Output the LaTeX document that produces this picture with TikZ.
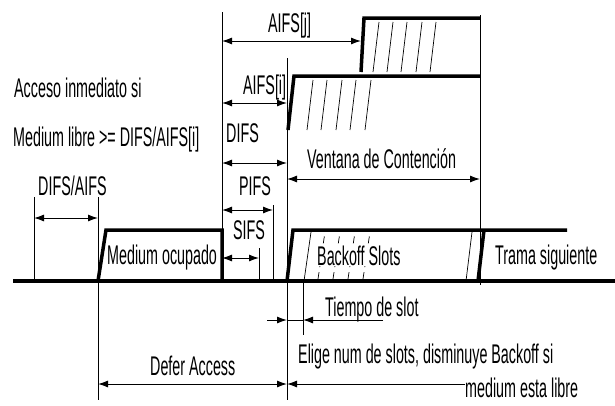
\documentclass[tikz,border=0pt]{standalone}
\usepackage{fontspec}
\setmainfont{Liberation Sans}[FakeStretch=0.53]
\usetikzlibrary{arrows.meta}

\begin{document}
\begin{tikzpicture}[x=1pt,y=-1pt,
  lbl/.style={anchor=base west,inner sep=0pt,font=\fontsize{27}{30}\selectfont},
  busy/.style={line width=3.5pt,line join=miter},
  guide/.style={line width=0.9pt},
  dim/.style={line width=1pt,{Latex[length=10pt,width=7pt]}-{Latex[length=10pt,width=7pt]}},
  half/.style={line width=1pt,-{Latex[length=10pt,width=7pt]}},
  slant/.style={line width=0.7pt},
  dslant/.style={line width=0.7pt,dash pattern=on 7pt off 5pt}]
  \useasboundingbox (0,0) rectangle (615,405);

  % time axis and transmissions
  \draw[busy] (13,281) -- (615,281);
  \draw[busy] (98,281) -- (106,230) -- (222,230) -- (222,281);
  \draw[busy] (288,130) -- (294,76) -- (480,76);
  \draw[busy] (361,72) -- (364,18) -- (480,18);
  \draw[busy] (287,281) -- (293,230) -- (567,230);
  \draw[busy] (478,281) -- (484,230);

  % slots
  \foreach \x in {373,387,401,416,430}
    \draw[slant] (\x,72) -- ++(6,-50);
  \foreach \x in {307,321,336,350,365}
    \draw[slant] (\x,130) -- ++(6,-50);
  \draw[slant] (304,281) -- ++(7,-49);
  \foreach \x in {318,333,348,363}
    \draw[dslant] (\x,279) -- ++(7,-47);
  \draw[slant] (466,281) -- ++(6,-49);

  % guide lines
  \draw[guide] (34,197) -- (34,281);
  \draw[guide] (98,197) -- (98,400);
  \draw[guide] (222,12) -- (222,281);
  \draw[guide] (259,248) -- (259,281);
  \draw[guide] (273,205) -- (273,281);
  \draw[guide] (287,58) -- (287,400);
  \draw[guide] (303,281) -- (303,335);
  \draw[guide] (480,15) -- (480,285);

  % dimension ends
  \coordinate (difsL) at (34,218);  \coordinate (difsR) at (98,218);
  \coordinate (ajL) at (222,41);    \coordinate (ajR) at (361,41);
  \coordinate (aiL) at (222,103);   \coordinate (aiR) at (287,103);
  \coordinate (dfL) at (222,163);   \coordinate (dfR) at (287,163);
  \coordinate (pfL) at (222,210);   \coordinate (pfR) at (273,210);
  \coordinate (sfL) at (222,258);   \coordinate (sfR) at (259,258);
  \coordinate (cwL) at (287,179);   \coordinate (cwR) at (480,179);
  \coordinate (daL) at (98,384);    \coordinate (daR) at (287,384);
  \coordinate (elR) at (465,384);
  \coordinate (tsA) at (267,320);   \coordinate (tsB) at (287,320);
  \coordinate (tsC) at (303,320);   \coordinate (tsD) at (383,320);

  \draw[dim] (difsL) -- (difsR);
  \draw[dim] (ajL) -- (ajR);
  \draw[dim] (aiL) -- (aiR);
  \draw[dim] (dfL) -- (dfR);
  \draw[dim] (pfL) -- (pfR);
  \draw[dim] (sfL) -- (sfR);
  \draw[dim] (cwL) -- (cwR);
  \draw[dim] (daL) -- (daR);
  \draw[half] (elR) -- (daR);
  \draw[half] (tsA) -- (tsB);
  \draw[line width=1pt] (tsB) -- (tsC);
  \draw[half] (tsD) -- (tsC);

  % labels
  \node[lbl] (acc) at (14,97) {Acceso inmediato si};
  \node[lbl] (cond) at (13,146) {Medium libre >= DIFS/AIFS[i]};
  \node[lbl] (difsaifs) at (38,195) {DIFS/AIFS};
  \node[lbl] (aifsj) at (268,32) {AIFS[j]};
  \node[lbl] (aifsi) at (243,94) {AIFS[i]};
  \node[lbl] (difs) at (226,142) {DIFS};
  \node[lbl] (pifs) at (239,195) {PIFS};
  \node[lbl] (sifs) at (233,239) {SIFS};
  \node[lbl] (vent) at (307,168) {Ventana de Contención};
  \node[lbl] (busytxt) at (107,264) {Medium ocupado};
  \node[lbl,fill=white,inner sep=1pt] (backoff) at (316,265) {Backoff Slots};
  \node[lbl] (next) at (495,264) {Trama siguiente};
  \node[lbl] (slot) at (325,316) {Tiempo de slot};
  \node[lbl] (defer) at (150,375) {Defer Access};
  \node[lbl] (elige) at (298,363) {Elige num de slots, disminuye Backoff si};
  \node[lbl] (libre) at (465,397) {medium esta libre};
\end{tikzpicture}
\end{document}
